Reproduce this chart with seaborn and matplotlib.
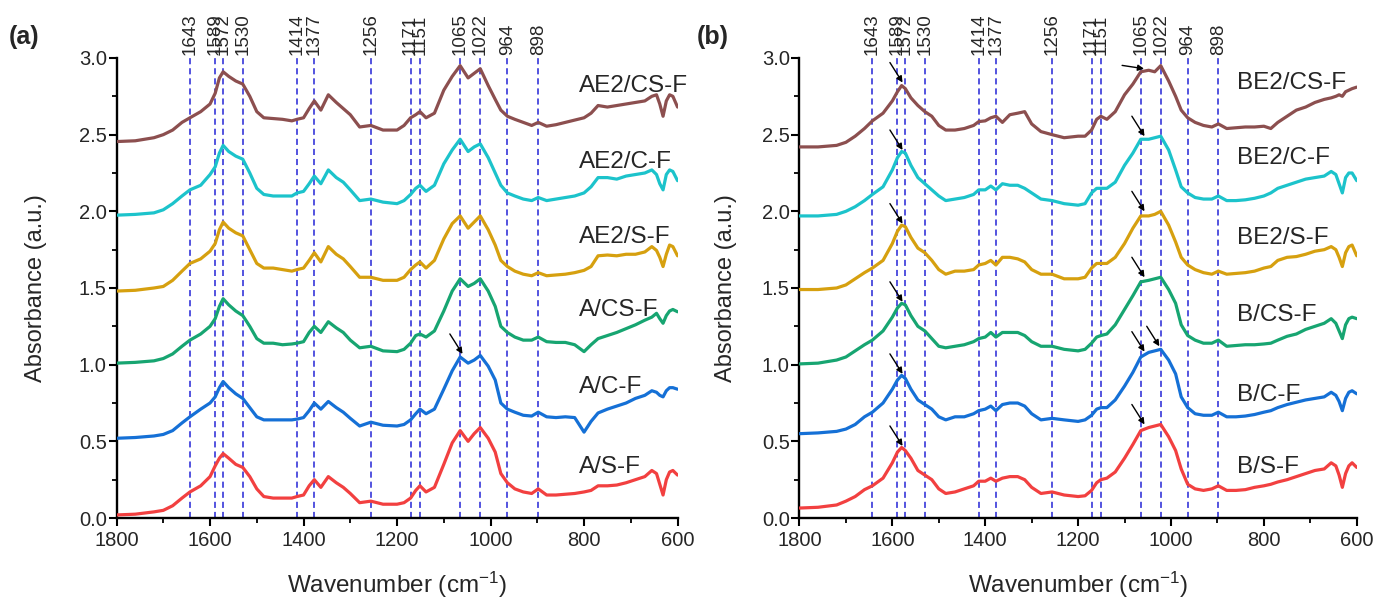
import matplotlib
matplotlib.use("Agg")
import matplotlib.pyplot as plt
import matplotlib.transforms as mtransforms
from matplotlib.ticker import MultipleLocator, FormatStrFormatter
import pandas as pd
import seaborn as sns

# Shared wavenumber grid (cm^-1) for every spectrum
wavenumber = [1800, 1760, 1720, 1700, 1680, 1660, 1643, 1620, 1600, 1589,
              1580, 1572, 1560, 1545, 1530, 1515, 1500, 1485, 1465, 1445,
              1425, 1414, 1400, 1388, 1377, 1363, 1347, 1330, 1315, 1300,
              1280, 1256, 1230, 1200, 1185, 1171, 1160, 1151, 1138, 1120,
              1100, 1082, 1065, 1048, 1035, 1022, 1005, 990, 978, 964,
              948, 930, 912, 898, 880, 860, 840, 820, 800, 785,
              770, 750, 730, 710, 690, 670, 655, 645, 638, 631,
              624, 617, 610, 600]

# Panel (a) spectra (stacked absorbance)
a_s_f = [0.02, 0.025, 0.04, 0.05, 0.08, 0.13, 0.17, 0.21, 0.27, 0.34,
         0.39, 0.42, 0.39, 0.35, 0.33, 0.27, 0.19, 0.14, 0.13, 0.13,
         0.13, 0.14, 0.15, 0.21, 0.25, 0.20, 0.27, 0.23, 0.20, 0.16,
         0.10, 0.11, 0.09, 0.09, 0.10, 0.13, 0.18, 0.21, 0.17, 0.20,
         0.35, 0.49, 0.57, 0.50, 0.55, 0.59, 0.52, 0.43, 0.29, 0.23,
         0.19, 0.17, 0.16, 0.19, 0.15, 0.15, 0.155, 0.16, 0.17, 0.18,
         0.21, 0.21, 0.215, 0.23, 0.25, 0.27, 0.31, 0.29, 0.22, 0.15,
         0.25, 0.30, 0.31, 0.28]
a_c_f = [0.52, 0.525, 0.535, 0.545, 0.57, 0.62, 0.66, 0.71, 0.75, 0.79,
         0.85, 0.89, 0.85, 0.81, 0.78, 0.72, 0.66, 0.64, 0.64, 0.64,
         0.64, 0.645, 0.655, 0.70, 0.75, 0.71, 0.76, 0.72, 0.69, 0.65,
         0.60, 0.625, 0.605, 0.60, 0.61, 0.64, 0.68, 0.71, 0.68, 0.71,
         0.84, 0.96, 1.05, 1.01, 1.03, 1.06, 0.99, 0.90, 0.75, 0.71,
         0.69, 0.67, 0.665, 0.69, 0.66, 0.655, 0.66, 0.655, 0.56, 0.63,
         0.685, 0.71, 0.73, 0.75, 0.78, 0.80, 0.83, 0.82, 0.80, 0.79,
         0.83, 0.85, 0.85, 0.84]
a_cs_f = [1.01, 1.015, 1.025, 1.04, 1.07, 1.12, 1.16, 1.20, 1.25, 1.30,
          1.38, 1.43, 1.39, 1.35, 1.32, 1.25, 1.17, 1.14, 1.14, 1.13,
          1.135, 1.14, 1.15, 1.21, 1.25, 1.21, 1.28, 1.24, 1.21, 1.16,
          1.11, 1.12, 1.09, 1.085, 1.10, 1.14, 1.19, 1.20, 1.18, 1.22,
          1.35, 1.48, 1.56, 1.51, 1.53, 1.56, 1.48, 1.38, 1.25, 1.21,
          1.18, 1.16, 1.16, 1.18, 1.15, 1.145, 1.145, 1.13, 1.085, 1.13,
          1.17, 1.19, 1.21, 1.235, 1.26, 1.29, 1.31, 1.335, 1.30, 1.27,
          1.32, 1.35, 1.36, 1.345]
ae2_s_f = [1.48, 1.485, 1.50, 1.51, 1.55, 1.61, 1.66, 1.69, 1.74, 1.79,
           1.88, 1.93, 1.89, 1.86, 1.84, 1.75, 1.66, 1.63, 1.63, 1.62,
           1.61, 1.62, 1.63, 1.68, 1.73, 1.67, 1.77, 1.72, 1.69, 1.64,
           1.57, 1.57, 1.55, 1.55, 1.57, 1.62, 1.65, 1.67, 1.63, 1.68,
           1.82, 1.92, 1.97, 1.89, 1.93, 1.97, 1.88, 1.78, 1.68, 1.64,
           1.61, 1.59, 1.58, 1.60, 1.58, 1.585, 1.59, 1.60, 1.615, 1.64,
           1.71, 1.715, 1.71, 1.72, 1.72, 1.735, 1.77, 1.745, 1.70, 1.64,
           1.72, 1.78, 1.77, 1.71]
ae2_c_f = [1.975, 1.98, 1.99, 2.01, 2.05, 2.10, 2.14, 2.17, 2.24, 2.29,
           2.38, 2.43, 2.39, 2.36, 2.34, 2.25, 2.15, 2.11, 2.10, 2.10,
           2.10, 2.12, 2.13, 2.18, 2.23, 2.18, 2.27, 2.22, 2.19, 2.14,
           2.07, 2.08, 2.06, 2.05, 2.07, 2.11, 2.15, 2.17, 2.13, 2.17,
           2.31, 2.40, 2.47, 2.39, 2.42, 2.44, 2.35, 2.25, 2.17, 2.12,
           2.10, 2.08, 2.07, 2.09, 2.07, 2.08, 2.09, 2.10, 2.12, 2.16,
           2.22, 2.22, 2.21, 2.23, 2.24, 2.25, 2.27, 2.24, 2.18, 2.14,
           2.24, 2.27, 2.26, 2.20]
ae2_cs_f = [2.455, 2.46, 2.48, 2.50, 2.53, 2.58, 2.61, 2.65, 2.70, 2.77,
            2.87, 2.91, 2.88, 2.85, 2.83, 2.75, 2.65, 2.61, 2.605, 2.60,
            2.59, 2.60, 2.61, 2.67, 2.72, 2.66, 2.76, 2.71, 2.67, 2.63,
            2.55, 2.56, 2.53, 2.53, 2.56, 2.61, 2.63, 2.65, 2.61, 2.64,
            2.79, 2.88, 2.95, 2.87, 2.90, 2.93, 2.82, 2.73, 2.66, 2.62,
            2.60, 2.58, 2.56, 2.58, 2.555, 2.565, 2.58, 2.595, 2.61, 2.64,
            2.69, 2.68, 2.69, 2.70, 2.71, 2.72, 2.75, 2.76, 2.70, 2.62,
            2.72, 2.76, 2.75, 2.68]

# Panel (b) spectra (stacked absorbance)
b_s_f = [0.065, 0.07, 0.085, 0.11, 0.14, 0.185, 0.21, 0.26, 0.36, 0.43,
         0.46, 0.44, 0.39, 0.31, 0.28, 0.25, 0.19, 0.16, 0.17, 0.19,
         0.21, 0.24, 0.24, 0.26, 0.24, 0.26, 0.27, 0.27, 0.25, 0.20,
         0.16, 0.17, 0.15, 0.14, 0.145, 0.18, 0.23, 0.25, 0.26, 0.30,
         0.39, 0.48, 0.57, 0.59, 0.60, 0.61, 0.53, 0.44, 0.32, 0.22,
         0.19, 0.18, 0.19, 0.21, 0.18, 0.18, 0.185, 0.20, 0.21, 0.22,
         0.235, 0.25, 0.27, 0.29, 0.31, 0.32, 0.36, 0.34, 0.28, 0.20,
         0.29, 0.34, 0.36, 0.33]
b_c_f = [0.55, 0.555, 0.565, 0.58, 0.61, 0.66, 0.69, 0.75, 0.84, 0.90,
         0.93, 0.91, 0.84, 0.77, 0.74, 0.71, 0.66, 0.64, 0.66, 0.66,
         0.68, 0.70, 0.71, 0.73, 0.70, 0.74, 0.75, 0.75, 0.73, 0.68,
         0.64, 0.65, 0.64, 0.63, 0.64, 0.67, 0.71, 0.72, 0.72, 0.77,
         0.86, 0.95, 1.05, 1.08, 1.09, 1.10, 1.03, 0.94, 0.79, 0.72,
         0.68, 0.67, 0.67, 0.69, 0.66, 0.66, 0.665, 0.675, 0.69, 0.70,
         0.72, 0.74, 0.755, 0.77, 0.78, 0.79, 0.82, 0.80, 0.76, 0.70,
         0.78, 0.82, 0.83, 0.81]
b_cs_f = [1.005, 1.01, 1.03, 1.05, 1.09, 1.13, 1.16, 1.22, 1.31, 1.37,
          1.40, 1.39, 1.32, 1.25, 1.22, 1.17, 1.12, 1.11, 1.12, 1.13,
          1.15, 1.17, 1.18, 1.21, 1.18, 1.21, 1.21, 1.21, 1.19, 1.15,
          1.12, 1.12, 1.10, 1.09, 1.10, 1.14, 1.18, 1.19, 1.20, 1.26,
          1.36, 1.45, 1.54, 1.55, 1.56, 1.57, 1.49, 1.40, 1.26, 1.19,
          1.16, 1.14, 1.14, 1.16, 1.12, 1.125, 1.13, 1.13, 1.135, 1.14,
          1.16, 1.185, 1.20, 1.23, 1.25, 1.27, 1.30, 1.27, 1.22, 1.17,
          1.26, 1.30, 1.31, 1.30]
be2_s_f = [1.49, 1.49, 1.50, 1.52, 1.56, 1.60, 1.63, 1.68, 1.79, 1.87,
           1.91, 1.90, 1.83, 1.76, 1.73, 1.68, 1.62, 1.59, 1.61, 1.61,
           1.62, 1.65, 1.66, 1.68, 1.65, 1.70, 1.70, 1.69, 1.67, 1.62,
           1.59, 1.59, 1.56, 1.56, 1.57, 1.63, 1.66, 1.66, 1.66, 1.70,
           1.79, 1.89, 1.97, 1.97, 1.98, 2.00, 1.91, 1.80, 1.70, 1.65,
           1.62, 1.60, 1.59, 1.61, 1.59, 1.595, 1.60, 1.61, 1.63, 1.64,
           1.68, 1.70, 1.705, 1.72, 1.74, 1.75, 1.77, 1.75, 1.70, 1.64,
           1.73, 1.77, 1.78, 1.71]
be2_c_f = [1.97, 1.97, 1.98, 2.00, 2.03, 2.07, 2.11, 2.16, 2.27, 2.35,
           2.39, 2.38, 2.30, 2.22, 2.18, 2.14, 2.10, 2.07, 2.08, 2.09,
           2.11, 2.14, 2.14, 2.165, 2.14, 2.18, 2.17, 2.17, 2.15, 2.12,
           2.08, 2.07, 2.05, 2.04, 2.05, 2.12, 2.15, 2.15, 2.15, 2.19,
           2.30, 2.38, 2.47, 2.47, 2.48, 2.49, 2.40, 2.27, 2.16, 2.12,
           2.09, 2.08, 2.08, 2.10, 2.07, 2.07, 2.075, 2.085, 2.10, 2.12,
           2.15, 2.17, 2.19, 2.21, 2.22, 2.23, 2.26, 2.24, 2.18, 2.12,
           2.22, 2.25, 2.25, 2.20]
be2_cs_f = [2.42, 2.42, 2.43, 2.45, 2.49, 2.54, 2.59, 2.64, 2.72, 2.78,
            2.82, 2.80, 2.74, 2.69, 2.65, 2.62, 2.56, 2.53, 2.53, 2.54,
            2.56, 2.585, 2.59, 2.61, 2.62, 2.58, 2.63, 2.64, 2.65, 2.57,
            2.52, 2.50, 2.48, 2.49, 2.49, 2.53, 2.60, 2.62, 2.60, 2.65,
            2.76, 2.83, 2.91, 2.92, 2.91, 2.95, 2.85, 2.75, 2.66, 2.61,
            2.58, 2.56, 2.55, 2.57, 2.54, 2.545, 2.55, 2.55, 2.555, 2.54,
            2.58, 2.62, 2.66, 2.68, 2.71, 2.73, 2.74, 2.75, 2.76, 2.75,
            2.78, 2.79, 2.80, 2.81]

# Band positions marked with dashed guides
peak_positions = [1643, 1589, 1572, 1530, 1414, 1377, 1256, 1171, 1151,
                  1065, 1022, 964, 898]

names_a = ["AE2/CS-F", "AE2/C-F", "AE2/S-F", "A/CS-F", "A/C-F", "A/S-F"]
names_b = ["BE2/CS-F", "BE2/C-F", "BE2/S-F", "B/CS-F", "B/C-F", "B/S-F"]
series_a = [ae2_cs_f, ae2_c_f, ae2_s_f, a_cs_f, a_c_f, a_s_f]
series_b = [be2_cs_f, be2_c_f, be2_s_f, b_cs_f, b_c_f, b_s_f]

# Curve name placement (wavenumber of left edge, absorbance of centre)
name_x_a = 811
name_y_a = [2.82, 2.32, 1.835, 1.357, 0.856, 0.335]
name_x_b = 858
name_y_b = [2.835, 2.35, 1.825, 1.325, 0.80, 0.335]

# Arrow tips (wavenumber, absorbance)
arrows_a = [(1060, 1.07)]
arrows_b = [(1578, 2.84), (1578, 2.40), (1578, 1.92), (1578, 1.41),
            (1578, 0.94), (1578, 0.47),
            (1057, 2.49), (1057, 2.00), (1057, 1.57), (1057, 1.085),
            (1025, 1.12), (1057, 0.61)]
side_arrow_b = (1058, 2.93)

palette = ["#8C4F4F", "#1CC3CB", "#D6A00F", "#17A571", "#1570D6", "#F24040"]
guide_color = "#2424D6"

sns.set_theme(style="ticks")
plt.rcParams["font.family"] = ["Liberation Sans", "DejaVu Sans"]
plt.rcParams["mathtext.fontset"] = "custom"
plt.rcParams["mathtext.rm"] = "Liberation Sans"
plt.rcParams["mathtext.it"] = "Liberation Sans:italic"
plt.rcParams["mathtext.bf"] = "Liberation Sans:bold"

fig = plt.figure(figsize=(13.76, 5.99), dpi=100)
ax_a = fig.add_axes([0.0847, 0.1352, 0.4077, 0.768])
ax_b = fig.add_axes([0.5810, 0.1352, 0.4050, 0.768])


def long_frame(names, series):
    rows = []
    for name, values in zip(names, series):
        assert len(values) == len(wavenumber), name
        for w, v in zip(wavenumber, values):
            rows.append((w, v, name))
    return pd.DataFrame(rows, columns=["wavenumber", "absorbance", "sample"])


def draw_panel(ax, names, series, name_x, name_y, arrows, ylab_x):
    df = long_frame(names, series)
    for p in peak_positions:
        ax.axvline(p, color=guide_color, lw=1.1, ls=(0, (4, 2.6)), zorder=1)
    sns.lineplot(data=df, x="wavenumber", y="absorbance", hue="sample",
                 hue_order=names, palette=palette, estimator=None,
                 linewidth=2.3, legend=False, ax=ax, zorder=3)
    ax.set_xlim(1800, 600)
    ax.set_ylim(0, 3.0)
    ax.xaxis.set_major_locator(MultipleLocator(200))
    ax.xaxis.set_minor_locator(MultipleLocator(100))
    ax.yaxis.set_major_locator(MultipleLocator(0.5))
    ax.yaxis.set_minor_locator(MultipleLocator(0.25))
    ax.yaxis.set_major_formatter(FormatStrFormatter("%.1f"))
    sns.despine(ax=ax)
    for side in ("left", "bottom"):
        ax.spines[side].set_linewidth(1.7)
        ax.spines[side].set_color("black")
    ax.tick_params(axis="both", which="major", direction="out", length=6,
                   width=1.5, labelsize=14.5, color="black")
    ax.tick_params(axis="both", which="minor", direction="out", length=3.5,
                   width=1.3, color="black")
    ax.tick_params(axis="x", which="major", pad=3)
    ax.tick_params(axis="y", which="major", pad=1)
    ax.set_xlabel("Wavenumber (cm$^{\\mathregular{-1}}$)", fontsize=17.5)
    ax.set_ylabel("Absorbance (a.u.)", fontsize=17)
    ax.xaxis.set_label_coords(0.5, -0.113)
    ax.yaxis.set_label_coords(ylab_x, 0.5)

    trans = mtransforms.blended_transform_factory(ax.transData, ax.transAxes)
    for p in peak_positions:
        ax.text(p, 1.006, str(p), rotation=90, ha="center", va="bottom",
                fontsize=13.5, transform=trans, clip_on=False)

    for name, y in zip(names, name_y):
        ax.text(name_x, y, name, ha="left", va="center", fontsize=17.5,
                zorder=5)

    for w, a in arrows:
        ax.annotate("", xy=(w, a), xytext=(-9.1, 14.4),
                    textcoords="offset points",
                    arrowprops=dict(arrowstyle="-|>", color="black", lw=1.0,
                                    mutation_scale=9, shrinkA=0, shrinkB=0),
                    zorder=6)


draw_panel(ax_a, names_a, series_a, name_x_a, name_y_a, arrows_a, -0.124)
draw_panel(ax_b, names_b, series_b, name_x_b, name_y_b, arrows_b, -0.112)

ax_b.annotate("", xy=side_arrow_b, xytext=(-15.8, 2.4),
              textcoords="offset points",
              arrowprops=dict(arrowstyle="-|>", color="black", lw=1.0,
                              mutation_scale=9, shrinkA=0, shrinkB=0),
              zorder=6)

fig.text(0.006, 0.958, "(a)", fontsize=18, fontweight="bold", va="top")
fig.text(0.5065, 0.958, "(b)", fontsize=18, fontweight="bold", va="top")

fig.savefig("out.png", dpi=100)
